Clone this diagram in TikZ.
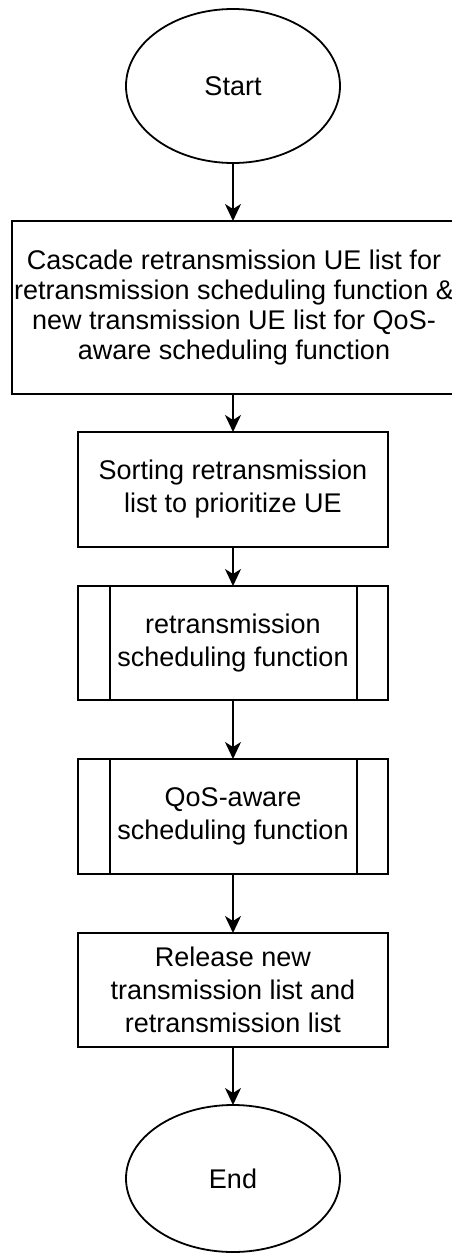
\documentclass[tikz,border=0pt]{standalone}
\usepackage{fontspec}
\setmainfont{Liberation Sans}
\usetikzlibrary{shapes.geometric,arrows.meta}
\begin{document}
\begin{tikzpicture}[x=1pt,y=-1pt,
  shape base/.style={draw=black, line width=1.8pt, align=center,
    inner sep=0pt, outer sep=0pt, text=black,
    font=\fontsize{27}{33}\selectfont},
  terminal/.style={shape base, ellipse, minimum width=214pt},
  procbox/.style={shape base, rectangle, minimum width=310pt},
  flow/.style={line width=1.8pt, -{Stealth[length=17pt,width=16pt,inset=5pt]}}]
\useasboundingbox (0,0) rectangle (451,1255);

% terminals and steps, top to bottom
\node[terminal, minimum height=154pt] (start) at (233,86) {Start};
\node[procbox, minimum width=444pt, minimum height=173pt,
      font=\fontsize{27}{30}\selectfont] (cascade) at (234,307.5)
  {Cascade retransmission UE list for\\
   retransmission scheduling function \&\\
   new transmission UE list for QoS-\\
   aware scheduling function};
\node[procbox, minimum height=115pt] (sort) at (233,489.5)
  {Sorting retransmission\\list to prioritize UE};
\node[procbox, minimum height=114pt] (sched) at (233,643)
  {retransmission\\scheduling function};
\node[procbox, minimum height=115pt] (qos) at (233,816.5)
  {QoS-aware\\scheduling function};
\node[procbox, minimum height=114pt] (release) at (233,990)
  {Release new\\transmission list and\\retransmission list};
\node[terminal, minimum height=147pt] (end) at (233,1178.5) {End};

% side bars of the predefined-process boxes
\foreach \n in {sched,qos}
  \draw[line width=1.8pt]
    ([xshift=32pt]\n.north west) -- ([xshift=32pt]\n.south west)
    ([xshift=-31pt]\n.north east) -- ([xshift=-31pt]\n.south east);

% connectors
\draw[flow] (start.south) -- (cascade.north -| start.south);
\draw[flow] (cascade.south -| sort.north) -- (sort.north);
\draw[flow] (sort) -- (sched);
\draw[flow] (sched) -- (qos);
\draw[flow] (qos) -- (release);
\draw[flow] (release) -- (end);
\end{tikzpicture}
\end{document}
